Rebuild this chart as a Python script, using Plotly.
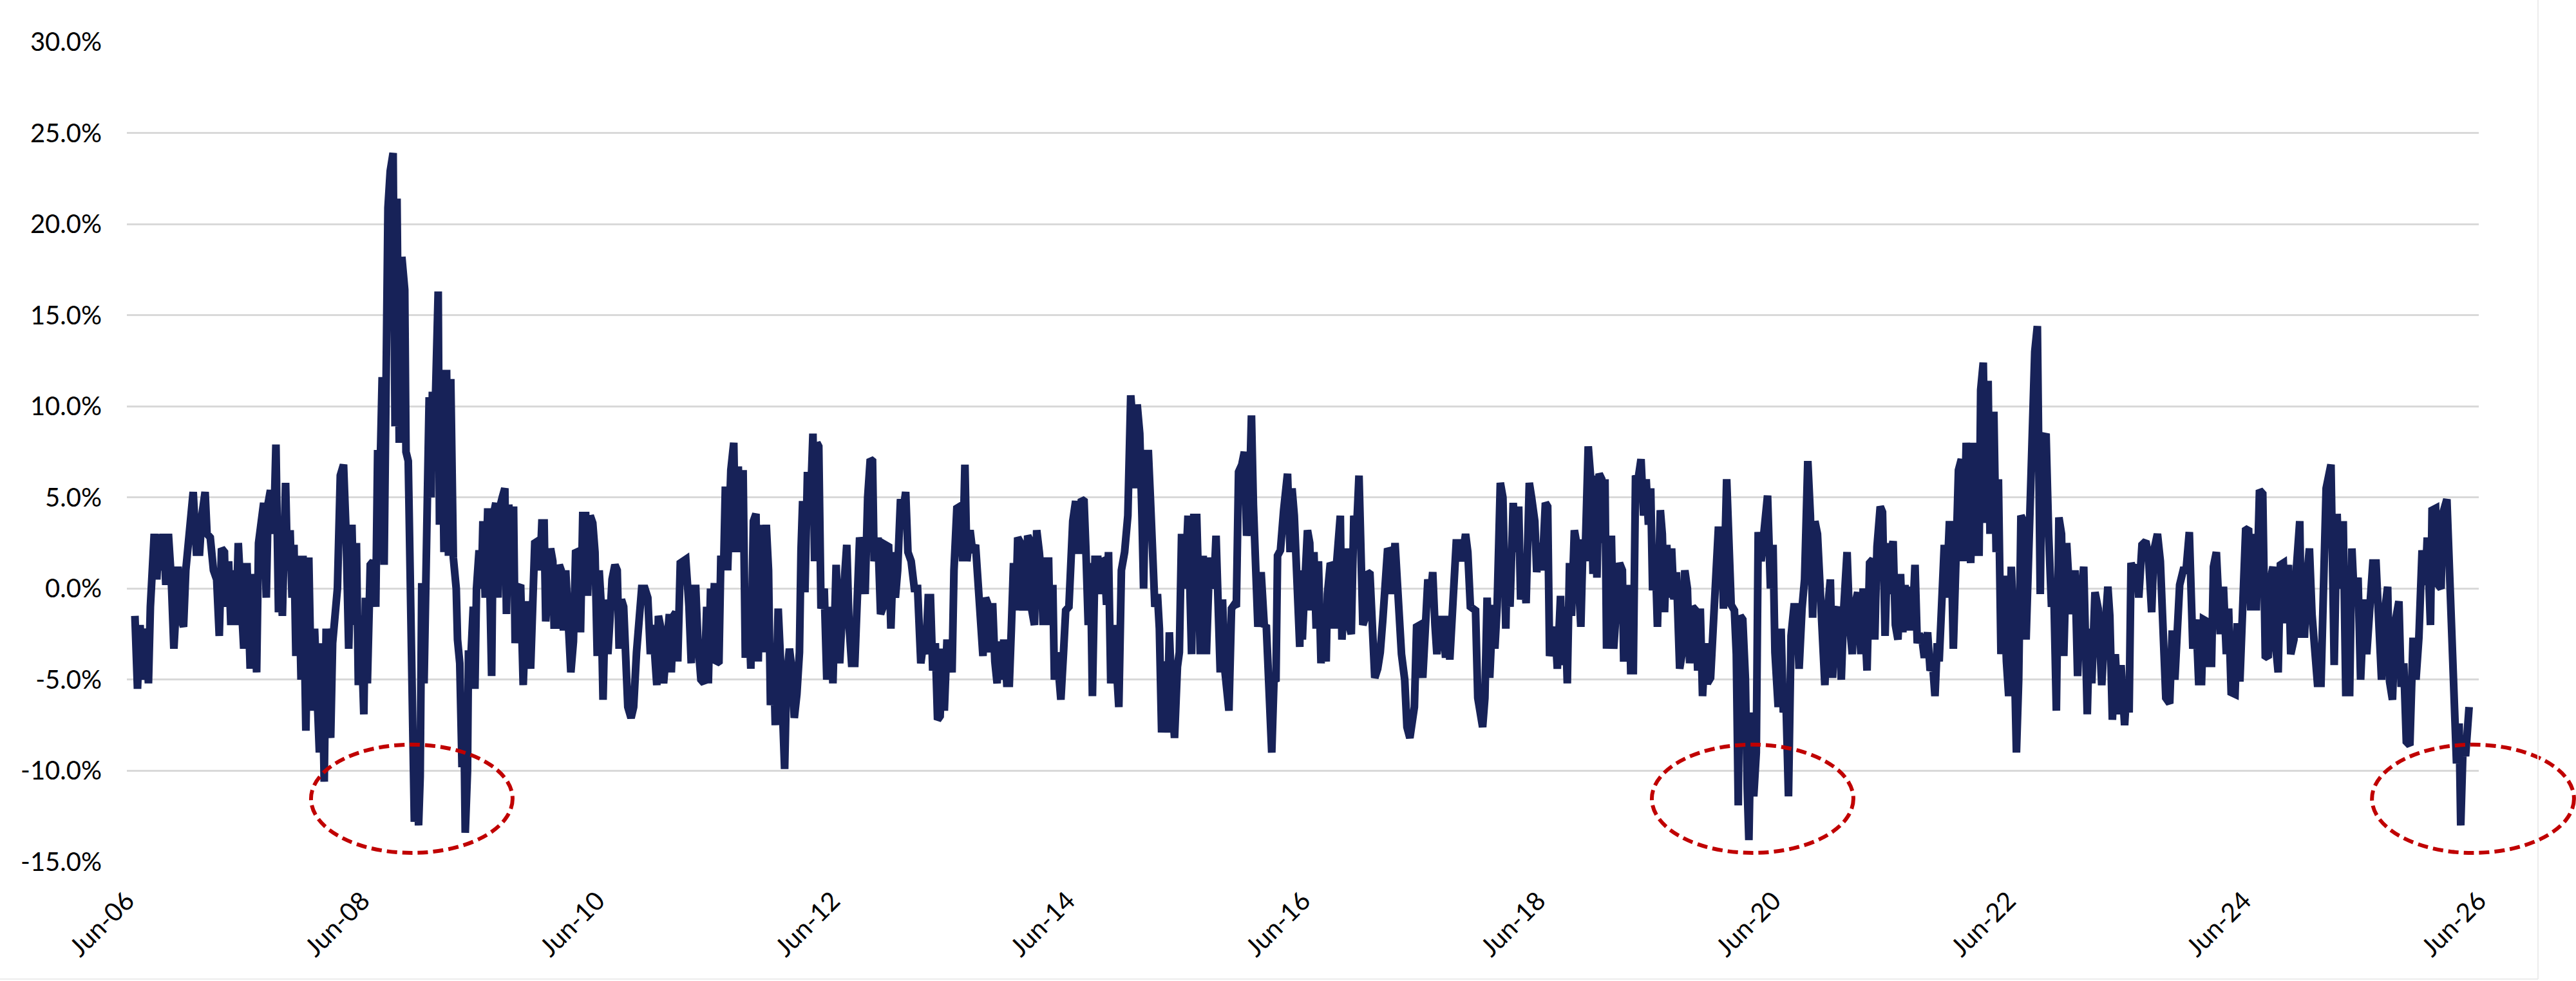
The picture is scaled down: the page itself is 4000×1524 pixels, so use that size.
import pandas as pd
import plotly.graph_objects as go

# Dates are stored as day offsets from start_date; values are in percent.
start_date = "2006-06-01"

seg_2006_2008 = [
    (25, -1.5), (33, -5.5), (41, -2.0), (49, -5.0), (59, -2.2), (67, -5.2), (73, -1.0), (78, 1.5), (85, 3.0), (93, 0.5),
    (99, 3.0), (106, 1.0), (114, 3.0), (121, 0.2), (129, 3.0), (138, 0.5), (146, -3.3), (153, -1.0), (159, 1.2), (166, -1.5),
    (176, -2.1), (183, 1.0), (189, 2.5), (196, 4.0), (206, 5.3), (216, 2.0), (226, 2.0), (233, 4.0), (243, 5.3), (249, 3.0),
    (259, 2.8), (269, 1.0), (279, 0.5), (287, -2.6), (294, 2.2), (303, 2.0), (307, -1.0), (316, 1.5), (323, -2.0), (331, 1.0),
    (339, -2.0), (346, 2.5), (353, -0.5), (363, -3.3), (373, 1.4), (383, -4.4), (393, 0.8), (403, -4.6), (409, 2.5), (418, 3.9),
    (425, 4.7), (433, -0.5), (439, 4.7), (446, 5.4), (456, 3.0), (463, 7.9), (471, -1.3), (478, 0.5), (483, -1.5), (493, 5.8),
    (499, 1.0), (507, 3.2), (513, -0.5), (519, 2.4), (525, -3.7), (533, 1.8), (541, -5.0), (547, 1.8), (556, -7.8), (565, 1.7),
    (574, -6.7), (583, -2.2), (589, -4.5), (598, -9.0), (605, -3.0), (613, -10.6), (619, -2.2), (626, -7.0), (633, -8.2), (639, -3.0),
    (647, -1.5), (654, 0.0), (663, 6.2), (673, 6.8), (681, 3.0), (689, -3.3), (699, 3.5), (706, -2.0), (713, 2.5), (719, -5.3),
    (726, -1.5), (736, -6.9), (741, -0.5), (747, -5.2), (756, 1.3), (765, 1.5), (773, -1.0), (779, 7.6), (786, 6.0), (793, 11.6),
    (799, 1.3), (805, 13.5), (811, 20.9), (818, 22.9), (827, 23.9), (833, 8.9), (839, 21.4), (846, 8.0), (854, 18.2), (863, 16.4),
    (867, 7.5), (874, 7.0), (879, 2.0),
]

seg_2008_2011 = [
    (886, -3.6), (893, -12.8), (901, -8.0), (906, -13.0), (911, -10.3), (916, 0.3), (923, -5.2), (927, 0.0), (933, 2.9), (939, 10.5),
    (945, 5.0), (949, 10.8), (955, 8.0), (961, 16.0), (967, 16.3), (971, 3.5), (978, 12.0), (985, 2.0), (993, 12.0), (999, 1.8),
    (1006, 11.5), (1014, 1.7), (1023, 0.0), (1027, -2.8), (1034, -4.1), (1041, -9.8), (1046, -6.0), (1051, -13.4), (1058, -10.0), (1061, -3.6),
    (1069, -3.6), (1076, -1.0), (1081, -5.5), (1086, 0.0), (1094, 2.1), (1101, 0.0), (1106, 3.7), (1113, -0.5), (1121, 4.4), (1127, 0.5),
    (1133, -4.8), (1138, 4.0), (1146, 4.7), (1153, -0.5), (1159, 4.5), (1166, 5.0), (1174, 5.5), (1179, -1.4), (1186, 4.6), (1194, 3.0),
    (1201, 4.5), (1206, -3.0), (1214, 0.0), (1223, 0.2), (1231, -5.3), (1238, -2.0), (1246, -0.7), (1254, -4.4), (1261, 0.0), (1267, 2.5),
    (1276, 2.6), (1283, 1.0), (1289, 3.6), (1296, 3.6), (1301, -1.8), (1307, 0.0), (1316, 2.2), (1323, 1.5), (1327, -2.0), (1334, -2.0),
    (1343, 1.3), (1349, 1.0), (1356, -2.3), (1363, 1.0), (1373, -3.6), (1379, -4.6), (1387, -2.9), (1394, 2.1), (1401, 2.0), (1409, -2.4),
    (1416, 4.0), (1425, 4.0), (1431, -0.4), (1439, 4.0), (1447, 3.6), (1454, 2.0), (1461, -3.7), (1467, 1.0), (1473, -0.8), (1479, -6.1),
    (1486, -0.6), (1494, -3.6), (1501, -1.5), (1507, 0.5), (1516, 1.3), (1523, 1.0), (1529, -3.3), (1536, -0.6), (1543, -1.0), (1549, -4.0),
    (1556, -6.5), (1566, -7.1), (1574, -6.5), (1583, -3.5), (1591, -1.0), (1599, 0.0), (1609, 0.0), (1618, -0.5), (1626, -3.6), (1634, -2.0),
    (1641, -4.0), (1646, -5.3), (1651, -1.5), (1659, -2.2), (1667, -5.2), (1676, -2.7), (1685, -1.4), (1691, -4.6), (1698, -1.5), (1705, -1.3),
    (1711, -4.0), (1719, 1.4), (1727, 1.5), (1736, 1.6), (1746, -1.0), (1753, -4.1), (1759, 0.0), (1767, 0.0), (1774, -3.0), (1783, -5.0),
    (1793, -5.2), (1801, -1.0),
]

seg_2011_2013 = [
    (1806, -5.2), (1813, 0.0), (1818, -2.3), (1825, 0.3), (1831, -4.1), (1839, -4.0), (1845, 1.8), (1854, 1.5), (1859, 5.6), (1866, 1.0),
    (1876, 6.5), (1885, 8.0), (1891, 2.0), (1899, 6.7), (1906, 2.0), (1914, 6.5), (1921, -3.8), (1929, 0.0), (1938, -4.4), (1946, 3.7),
    (1954, 4.1), (1961, -4.0), (1969, 3.5), (1978, -3.5), (1986, 3.5), (1993, 1.0), (1999, -6.4), (2009, -4.0), (2014, -7.5), (2023, -1.1),
    (2033, -5.0), (2043, -9.9), (2049, -5.0), (2058, -3.3), (2066, -4.5), (2073, -7.1), (2081, -5.8), (2089, -3.5), (2094, 2.1), (2099, 4.8),
    (2106, -0.2), (2114, 6.4), (2123, 4.5), (2131, 8.5), (2136, 1.5), (2143, 8.0), (2149, 7.8), (2156, -1.1), (2166, 0.0), (2174, -5.0),
    (2183, -1.0), (2193, -5.2), (2203, 1.3), (2209, -1.0), (2214, -4.1), (2223, -1.0), (2236, 2.4), (2243, -2.0), (2251, -4.1), (2261, -4.1),
    (2267, 0.0), (2276, 2.8), (2286, 2.0), (2293, -0.3), (2301, 5.0), (2309, 7.1), (2316, 7.0), (2321, 1.5), (2333, 2.8), (2341, -1.4),
    (2349, -1.0), (2356, 2.4), (2366, 2.3), (2373, -2.2), (2381, 2.0), (2387, -0.5), (2394, 1.0), (2403, 4.9), (2413, 4.5), (2419, 5.3),
    (2426, 2.0), (2436, 1.5), (2446, 0.0), (2456, 0.0), (2466, -4.1), (2474, -3.0), (2481, -3.6), (2489, -0.5), (2496, -0.5), (2503, -4.5),
    (2511, -3.0), (2518, -7.2), (2526, -7.0), (2533, -3.3), (2539, -6.7), (2547, -3.0), (2556, -3.0), (2563, -4.6), (2569, 1.0), (2578, 4.4),
    (2587, 4.5), (2596, 1.5), (2603, 6.8), (2609, 1.5), (2619, 3.2), (2627, 2.0), (2636, 2.4), (2643, 0.2), (2651, -2.8), (2659, -3.7),
    (2667, -0.5), (2673, -0.8), (2681, -3.5), (2689, -0.8), (2696, -4.0), (2703, -5.2), (2709, -2.9), (2716, -5.0), (2723, -3.0),
]

seg_2013_2016 = [
    (2726, -3.0), (2733, -5.2), (2741, -5.2), (2747, -2.3), (2754, 1.4), (2761, -1.2), (2767, 2.8), (2776, 2.5), (2783, -1.0), (2791, -1.0),
    (2798, 2.9), (2806, 2.6), (2811, -1.2), (2819, -2.0), (2826, 3.2), (2834, 2.0), (2841, 0.5), (2846, -2.0), (2854, 1.5), (2863, 1.5),
    (2867, -2.0), (2876, 0.2), (2881, -5.0), (2889, -3.5), (2901, -6.1), (2909, -3.6), (2916, -1.2), (2926, -1.0), (2931, 2.7), (2938, 3.7),
    (2947, 4.8), (2956, 1.9), (2965, 4.9), (2973, 4.8), (2979, 2.0), (2986, -2.0), (2993, 1.4), (2999, -5.9), (3007, 1.6), (3016, 1.6),
    (3023, -0.3), (3029, 1.6), (3036, 1.5), (3043, -0.9), (3049, 2.0), (3056, -5.2), (3066, -2.0), (3074, -4.0), (3081, -6.5), (3089, 1.0),
    (3099, 2.0), (3109, 4.0), (3118, 10.6), (3125, 9.0), (3131, 5.5), (3138, 10.1), (3146, 8.5), (3153, 3.9), (3158, 0.0), (3165, 7.4),
    (3173, 7.4), (3179, 5.0), (3187, 2.0), (3193, -1.0), (3201, -0.3), (3207, -2.2), (3214, -7.9), (3223, -4.0), (3231, -7.9), (3238, -2.4),
    (3246, -6.0), (3254, -8.2), (3263, -4.3), (3269, -3.5), (3276, 3.0), (3286, 0.0), (3296, 4.0), (3303, -1.6), (3307, -3.6), (3314, 3.9),
    (3323, 3.9), (3329, 0.0), (3334, -3.6), (3343, 1.8), (3353, -3.6), (3363, 1.7), (3369, 1.0), (3376, 0.0), (3383, 2.9), (3389, -2.7),
    (3396, -4.6), (3403, -0.6), (3411, -4.6), (3423, -6.7), (3431, -1.1), (3439, -0.9), (3446, -1.0), (3453, 6.4), (3463, 6.8), (3471, 7.5),
    (3478, 2.9), (3485, 4.0), (3493, 9.5), (3499, 4.6), (3506, 1.5), (3513, -2.1), (3523, 0.9), (3533, -2.1), (3539, -2.0), (3546, -5.1),
    (3556, -9.0), (3563, -5.0), (3569, -5.1), (3574, 1.8), (3583, 2.1), (3593, 4.3), (3605, 6.3), (3613, 2.0), (3619, 5.5), (3626, 4.0),
    (3634, 0.2), (3643, -3.2),
]

seg_2016_2018 = [
    (3646, 1.0), (3651, -2.8), (3658, 0.0), (3667, 3.2), (3674, 2.5), (3679, -1.2), (3687, 2.0), (3694, -2.2), (3701, 1.5), (3709, -4.1),
    (3716, -1.4), (3725, -4.0), (3729, -0.3), (3738, 1.4), (3746, 1.2), (3751, -2.2), (3758, 1.5), (3769, 4.0), (3774, -2.8), (3783, 1.0),
    (3789, 2.2), (3796, -2.0), (3803, -2.5), (3811, 4.0), (3819, 3.0), (3827, 6.2), (3833, 3.0), (3839, -2.0), (3846, -1.6), (3853, 0.9),
    (3861, 0.8), (3867, -1.8), (3876, -4.9), (3885, -4.4), (3893, -3.5), (3901, -1.7), (3909, 1.5), (3916, 2.2), (3923, 2.0), (3929, -0.3),
    (3939, 2.5), (3946, 0.0), (3954, -0.9), (3959, -3.6), (3969, -5.0), (3976, -7.6), (3985, -8.2), (3993, -7.1), (3999, -6.5), (4006, -2.1),
    (4016, -2.0), (4025, -4.9), (4033, -2.0), (4041, 0.5), (4049, -0.5), (4056, 0.9), (4063, -2.0), (4069, -3.6), (4079, -1.7), (4087, -1.7),
    (4096, -3.8), (4105, -1.5), (4109, -3.9), (4119, -0.3), (4129, 2.5), (4139, 2.5), (4147, 1.5), (4158, 3.0), (4165, 2.0), (4173, -1.0),
    (4183, -1.2), (4189, -1.2), (4196, -6.0), (4211, -7.6), (4218, -6.0), (4225, -0.5), (4233, -4.9), (4243, -0.9), (4249, -3.3), (4256, -1.0),
    (4266, 5.8), (4274, 5.0), (4283, -2.2), (4287, 1.7), (4296, -1.0), (4306, 4.7), (4316, 2.0), (4323, 4.5), (4329, -0.6), (4339, 1.0),
    (4346, -0.8), (4356, 5.8), (4363, 5.0), (4373, 3.7), (4379, 0.9), (4387, 2.5), (4396, 1.0), (4406, 4.7), (4413, 4.5), (4419, -3.7),
    (4429, -2.8), (4436, -2.1), (4443, -4.4), (4453, -0.4), (4459, -4.2), (4467, -1.0), (4474, -5.2), (4481, 1.4), (4487, -1.5), (4496, 3.2),
    (4503, 2.5), (4509, -1.3), (4516, -2.1), (4523, 2.7), (4529, 1.5), (4539, 7.8), (4547, 6.0), (4554, 0.8), (4561, 6.2),
]

seg_2018_2021 = [
    (4566, 0.6), (4573, 6.3), (4581, 6.0), (4586, 2.5), (4591, 6.0), (4596, -3.3), (4603, -0.5), (4611, 2.9), (4618, -3.3), (4626, -1.4),
    (4636, 1.4), (4645, 1.0), (4649, -3.8), (4656, -3.8), (4665, 0.2), (4671, -4.5), (4679, -4.5), (4686, 6.2), (4694, 6.0), (4703, 7.1),
    (4711, 4.0), (4719, 6.0), (4726, 3.5), (4733, 5.5), (4739, -0.1), (4747, 2.0), (4754, -2.1), (4763, 4.3), (4769, 3.0), (4776, -1.3),
    (4783, 2.4), (4789, -0.5), (4798, 2.2), (4805, -0.6), (4813, 0.9), (4823, -4.4), (4831, -3.5), (4839, 1.0), (4847, 0.0), (4854, -4.1),
    (4863, -1.0), (4873, -1.2), (4879, -4.5), (4887, -1.1), (4894, -5.9), (4903, -3.0), (4909, -5.2), (4919, -4.9), (4927, -1.4), (4936, 0.8),
    (4943, 3.2), (4953, 3.2), (4959, -1.1), (4969, 6.0), (4976, 3.0), (4983, -0.9), (4993, -1.2), (4999, -3.6), (5005, -11.9), (5011, -1.5),
    (5019, -1.7), (5027, -4.9), (5033, -11.0), (5038, -13.8), (5045, -6.8), (5053, -11.4), (5061, -9.0), (5067, 3.1), (5076, 1.5), (5086, 4.0),
    (5096, 5.1), (5105, 0.0), (5113, 2.4), (5119, -3.5), (5129, -6.5), (5138, -2.2), (5145, -6.8), (5153, -6.0), (5161, -11.4), (5169, -2.6),
    (5178, -1.0), (5186, -1.0), (5194, -4.4), (5203, -1.1), (5211, 0.5), (5221, 7.0), (5229, 4.0), (5236, -1.6), (5243, 3.7), (5251, 3.0),
    (5259, -0.7), (5265, -3.0), (5274, -5.3), (5283, -1.1), (5291, 0.5), (5298, -4.9), (5306, -1.5), (5316, -1.0), (5325, -5.0), (5333, -1.0),
    (5343, 2.0), (5351, -2.0), (5359, -3.6), (5366, -1.0), (5376, -0.2), (5386, -3.6), (5393, 0.0), (5405, -4.5), (5413, 1.4), (5423, 1.6),
    (5429, -2.8), (5436, 2.3), (5446, 4.5), (5453, 4.2), (5461, -2.6), (5469, 2.5), (5476, -0.3), (5485, 2.5),
]

seg_2021_2023 = [
    (5486, 2.6), (5493, -2.0), (5501, -2.8), (5509, 0.8), (5516, -2.4), (5523, 0.2), (5529, -2.3), (5538, 0.1), (5545, -2.3), (5554, 1.3),
    (5561, -3.0), (5567, -2.5), (5576, -2.8), (5583, -3.8), (5593, -2.4), (5601, -4.5), (5609, -4.2), (5616, -5.9), (5623, -3.0), (5629, -4.0),
    (5636, 0.2), (5645, 2.4), (5651, -0.5), (5661, 3.7), (5667, 2.0), (5673, -3.3), (5681, 1.5), (5689, 6.5), (5698, 7.1), (5705, 1.5),
    (5713, 8.0), (5721, 1.5), (5727, 1.4), (5736, 8.0), (5745, 2.0), (5753, 2.0), (5758, 10.9), (5766, 12.4), (5774, 3.6), (5781, 11.4),
    (5787, 3.0), (5793, 9.5), (5799, 9.5), (5806, 2.0), (5813, 6.0), (5821, -3.6), (5829, 0.7), (5838, -4.0), (5845, -5.9), (5853, 1.2),
    (5861, -2.5), (5869, -9.0), (5876, -5.0), (5883, 4.0), (5891, 3.7), (5899, -2.8), (5909, 4.0), (5916, 8.0), (5926, 13.0), (5934, 14.4),
    (5943, -0.3), (5949, 8.0), (5961, 8.5), (5969, 3.0), (5978, -1.0), (5985, 0.0), (5993, -6.7), (6001, 3.9), (6009, 3.0), (6016, -3.7),
    (6025, 2.5), (6033, 0.0), (6041, -1.4), (6051, 1.0), (6059, -4.8), (6067, -1.0), (6078, 1.2), (6089, -6.9), (6096, -2.2), (6103, -5.2),
    (6113, -0.2), (6123, -1.1), (6134, -5.3), (6141, -3.0), (6153, 0.1), (6159, -1.5), (6167, -7.2), (6176, -3.6), (6186, -6.9), (6194, -4.2),
    (6205, -7.5), (6213, -5.0), (6219, -6.8), (6225, 1.4), (6233, 1.0), (6243, 1.3), (6249, -0.5), (6259, 2.4), (6271, 2.6), (6279, 1.8),
    (6289, -1.3), (6296, 2.1), (6307, 3.0), (6316, 1.5), (6325, -3.8), (6333, -6.0), (6345, -6.3), (6353, -2.3), (6361, -5.0), (6367, -2.5),
    (6376, 0.2), (6387, 1.0), (6396, 1.0),
]

seg_2023_2026 = [
    (6406, 3.1), (6412, -1.3), (6417, -3.3), (6427, -1.7), (6435, -5.1), (6444, -5.1), (6450, -1.7), (6460, -1.8), (6467, -4.1), (6475, -4.1),
    (6481, 1.2), (6490, 2.0), (6502, -2.5), (6512, 0.1), (6521, -3.6), (6528, -1.1), (6536, -5.7), (6548, -5.8), (6555, -1.9), (6563, -5.1),
    (6571, -0.2), (6581, 3.2), (6590, 3.3), (6597, -1.2), (6607, 3.0), (6614, -1.2), (6624, 5.4), (6634, 5.2), (6642, -3.7), (6651, -3.8),
    (6659, 0.6), (6666, 1.2), (6672, -2.7), (6682, -4.6), (6689, 1.3), (6698, 1.4), (6706, -1.9), (6714, 1.3), (6721, -3.6), (6731, -2.8),
    (6739, 1.2), (6749, 3.7), (6754, -2.5), (6764, -2.5), (6772, 0.8), (6779, 2.2), (6787, -1.4), (6796, -3.0), (6804, -5.2), (6815, -5.2),
    (6823, 0.2), (6831, 5.5), (6846, 6.8), (6856, -4.2), (6865, 4.1), (6873, 0.0), (6884, 3.7), (6892, -5.7), (6904, -5.7), (6911, 2.2),
    (6919, -0.9), (6930, 0.6), (6938, -5.0), (6949, -0.6), (6957, -3.6), (6969, -0.5), (6976, 1.4), (6986, 1.4), (6994, -2.6), (7003, -5.0),
    (7012, -1.4), (7022, 0.1), (7028, -5.1), (7037, -6.1), (7045, -1.9), (7057, -0.7), (7064, -5.4), (7072, -4.1), (7080, -8.4), (7091, -8.6),
    (7101, -2.7), (7110, -5.0), (7119, -2.7), (7129, 2.1), (7139, 0.2), (7145, 2.8), (7155, -2.0), (7160, 4.3), (7171, 4.4), (7179, 0.2),
    (7188, 0.0), (7193, 4.1), (7206, 4.9), (7213, 2.0), (7221, -2.4), (7229, -5.5), (7236, -9.6), (7244, -7.4), (7249, -13.0), (7257, -8.2),
    (7264, -9.2), (7275, -6.5),
]

segments = [seg_2006_2008, seg_2008_2011, seg_2011_2013, seg_2013_2016,
            seg_2016_2018, seg_2018_2021, seg_2021_2023, seg_2023_2026]

day_offsets = [p[0] for s in segments for p in s]
values_pct = [p[1] for s in segments for p in s]
dates = pd.Timestamp(start_date) + pd.to_timedelta(day_offsets, unit="D")

y_tick_vals = [-15, -10, -5, 0, 5, 10, 15, 20, 25, 30]
y_tick_text = ["-15.0%", "-10.0%", "-5.0%", "0.0%", "5.0%", "10.0%", "15.0%", "20.0%", "25.0%", "30.0%"]
x_tick_vals = ["2006-06-01", "2008-06-01", "2010-06-01", "2012-06-01", "2014-06-01", "2016-06-01",
               "2018-06-01", "2020-06-01", "2022-06-01", "2024-06-01", "2026-06-01"]
x_tick_text = ["Jun-06", "Jun-08", "Jun-10", "Jun-12", "Jun-14", "Jun-16",
               "Jun-18", "Jun-20", "Jun-22", "Jun-24", "Jun-26"]

# Highlighted regions (ellipses), in plot-area fractions
highlight_x = [(0.0783, 0.1640), (0.6484, 0.7341), (0.9546, 1.0405)]
highlight_y = (0.011, 0.143)

LINE = "#172258"
RED = "#C00000"
FONT = "Lato"

fig = go.Figure()
fig.add_trace(go.Scatter(x=dates, y=values_pct, mode="lines",
                         line=dict(color=LINE, width=12), hoverinfo="skip"))

shapes = []
for x0, x1 in highlight_x:
    shapes.append(dict(type="circle", xref="paper", yref="paper",
                       x0=x0, x1=x1, y0=highlight_y[0], y1=highlight_y[1],
                       line=dict(color=RED, width=6, dash="16px,8px"), layer="above"))
# faint chart-area border (right and bottom edges)
shapes.append(dict(type="line", xref="paper", yref="paper", x0=1.0252, x1=1.0252, y0=-0.1429, y1=1.06,
                   line=dict(color="#ececec", width=2)))
shapes.append(dict(type="line", xref="paper", yref="paper", x0=-0.06, x1=1.0252, y0=-0.1429, y1=-0.1429,
                   line=dict(color="#ececec", width=2)))

fig.update_layout(
    width=4000, height=1524,
    margin=dict(l=197, r=151, t=65, b=185),
    paper_bgcolor="white", plot_bgcolor="white",
    showlegend=False,
    shapes=shapes,
    font=dict(family=FONT, size=40, color="black"),
)
fig.update_xaxes(type="date", range=["2006-06-01", "2026-06-01"],
                 tickvals=x_tick_vals, ticktext=x_tick_text, tickangle=-45,
                 showgrid=False, zeroline=False, showline=False, ticks="",
                 ticklabelstandoff=28, tickfont=dict(family=FONT, size=40, color="black"))
fig.update_yaxes(range=[-15, 30], tickvals=y_tick_vals, ticktext=y_tick_text,
                 showgrid=True, gridcolor="#d9d9d9", gridwidth=3,
                 zeroline=False, showline=False, ticks="",
                 ticklabelstandoff=38, tickfont=dict(family=FONT, size=40, color="black"))

fig.write_html("out.html", config={"displayModeBar": False})
